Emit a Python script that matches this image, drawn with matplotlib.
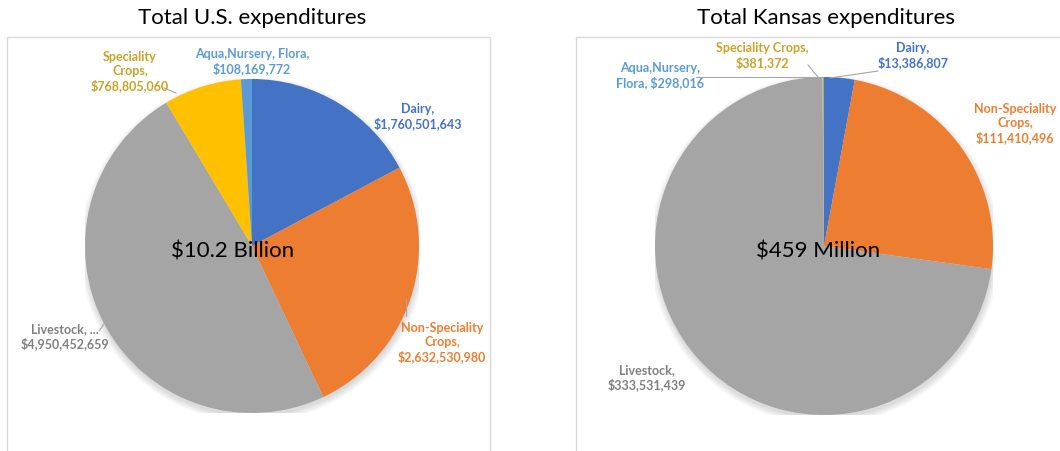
import matplotlib.pyplot as plt
from matplotlib.patches import Rectangle, Circle
from matplotlib.lines import Line2D

plt.rcParams['font.family'] = ['Lato', 'DejaVu Sans']

# Data
categories = ['Dairy', 'Non-Speciality Crops', 'Livestock', 'Speciality Crops', 'Aqua,Nursery, Flora']
us_values = [1760501643, 2632530980, 4950452659, 768805060, 108169772]
ks_values = [13386807, 111410496, 333531439, 381372, 298016]
titles = ['Total U.S. expenditures', 'Total Kansas expenditures']
totals = ['$10.2 Billion', '$459 Million']

slice_colors = ['#4472C4', '#ED7D31', '#A5A5A5', '#FFC000', '#5B9BD5']
text_colors = ['#4472C4', '#ED7D31', '#808080', '#C9A227', '#5B9BD5']

W, H = 1060, 451
fig = plt.figure(figsize=(W / 100, H / 100), dpi=100)


def fx(x):
    return x / W


def fy(y):
    return 1 - y / H


def draw_pie(values, cx, cy, r):
    ax = fig.add_axes([(cx - r) / W, (H - cy - r) / H, 2 * r / W, 2 * r / H])
    # soft drop shadow
    for i in range(6):
        ax.add_patch(Circle((0.004, -0.02), 1 + 0.007 * i, color='k', alpha=0.025, zorder=0, lw=0))
    ax.pie(values, colors=slice_colors, startangle=90, counterclock=False,
           wedgeprops=dict(linewidth=0, zorder=2))
    ax.set_xlim(-1, 1)
    ax.set_ylim(-1, 1)
    ax.set_aspect('equal')
    ax.axis('off')
    return ax


def label(x, y, s, color):
    fig.text(fx(x), fy(y), s, ha='center', va='center', color=color,
             fontsize=9, fontweight='bold', linespacing=1.2)


def leader(pts):
    xs = [fx(p[0]) for p in pts]
    ys = [fy(p[1]) for p in pts]
    fig.add_artist(Line2D(xs, ys, color='#a6a6a6', lw=0.8))


# Frames
fig.add_artist(Rectangle((fx(7), fy(470)), (490 - 7) / W, (470 - 37) / H,
                         transform=fig.transFigure, fill=False, ec='#d9d9d9', lw=1))
fig.add_artist(Rectangle((fx(576), fy(470)), (1080 - 576) / W, (470 - 37) / H,
                         transform=fig.transFigure, fill=False, ec='#d9d9d9', lw=1))

# Titles
fig.text(fx(252), fy(18), titles[0], ha='center', va='center', fontsize=16)
fig.text(fx(826), fy(18), titles[1], ha='center', va='center', fontsize=16)

# U.S. pie
draw_pie(us_values, 252, 246, 167)
fig.text(fx(233), fy(251), totals[0], ha='center', va='center', fontsize=16, zorder=5)

label(418, 117, 'Dairy,\n${:,}'.format(us_values[0]), text_colors[0])
label(442, 343, 'Non-Speciality\nCrops,\n${:,}'.format(us_values[1]), text_colors[1])
label(65, 337, 'Livestock, ...\n${:,}'.format(us_values[2]), text_colors[2])
label(130, 72, 'Speciality\nCrops,\n${:,}'.format(us_values[3]), text_colors[3])
label(252, 62, 'Aqua,Nursery, Flora,\n${:,}'.format(us_values[4]), text_colors[4])
leader([(164, 88), (176, 93)])
leader([(406, 299), (406, 316)])
leader([(99, 331), (104, 324)])

# Kansas pie
draw_pie(ks_values, 824, 246, 169)
fig.text(fx(818), fy(251), totals[1], ha='center', va='center', fontsize=16, zorder=5)

label(913, 56, 'Dairy,\n${:,}'.format(ks_values[0]), text_colors[0])
label(1015, 124, 'Non-Speciality\nCrops,\n${:,}'.format(ks_values[1]), text_colors[1])
label(647, 378, 'Livestock,\n${:,}'.format(ks_values[2]), text_colors[2])
label(762, 56, 'Speciality Crops,\n${:,}'.format(ks_values[3]), text_colors[3])
label(660, 76, 'Aqua,Nursery,\nFlora, ${:,}'.format(ks_values[4]), text_colors[4])
leader([(696, 77), (822, 77)])
leader([(808, 65), (818, 77)])
leader([(878, 71), (830, 78)])

fig.savefig('out.png', dpi=100, facecolor='white')
